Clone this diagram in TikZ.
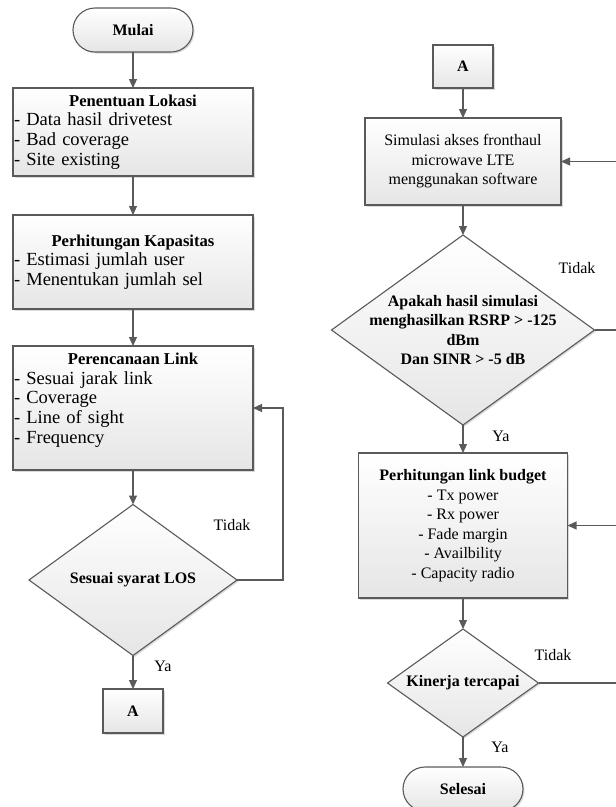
\documentclass[tikz,border=0pt]{standalone}
\usepackage{fontspec}
\setmainfont{Liberation Serif}
\usetikzlibrary{arrows.meta,shapes.geometric,shadows}
\definecolor{ln}{HTML}{5A5A5A}
\newcommand\myfs{\fontsize{16}{19.5}\selectfont}
\newcommand\lfs{\fontsize{18.5}{19.7}\selectfont}
\newcommand\ltitle[1]{\makebox[238pt]{\fontsize{16.6}{19.7}\selectfont\bfseries\spaceskip=0pt\xspaceskip=0pt\relax #1}}
\begin{document}
\begin{tikzpicture}[x=1pt,y=-1pt,
  base/.style={draw=ln, line width=1.1pt, top color=white, bottom color=gray!20,
    drop shadow={shadow xshift=1.5pt,shadow yshift=-1.5pt,opacity=0.3},
    inner sep=0pt, outer sep=0pt, font=\myfs},
  box/.style={base, rectangle, inner xsep=2pt},
  lbox/.style={base, rectangle, inner xsep=1pt, text width=238pt, minimum width=240pt, align=left, font=\lfs},
  term/.style={base, rectangle, rounded corners=22pt, minimum width=120pt, minimum height=44pt},
  dia/.style={base, diamond},
  dtext/.style={font=\myfs\bfseries, align=center, inner sep=0pt},
  lbl/.style={font=\myfs, inner sep=0pt},
  arr/.style={draw=ln, line width=1.1pt, -{Triangle[length=9pt,width=8pt]}}]
\useasboundingbox (0,0) rectangle (616,807);

% left column
\node[term] (mulai) at (133,30) {\textbf{Mulai}};
\node[lbox, minimum height=88pt] (lok) at (133,132)
  {\ltitle{Penentuan Lokasi}\\- Data hasil drivetest\\- Bad coverage\\- Site existing};
\node[lbox, minimum height=94pt] (kap) at (133,262)
  {\ltitle{Perhitungan Kapasitas}\\- Estimasi jumlah user\\- Menentukan jumlah sel};
\node[lbox, minimum height=124pt] (link) at (133,408)
  {\ltitle{Perencanaan Link}\\- Sesuai jarak link\\- Coverage\\- Line of sight\\- Frequency\\\mbox{}};
\node[dia, minimum width=208pt, minimum height=151pt] (los) at (133,580) {};
\node[dtext] (lost) at (los.center) {Sesuai syarat LOS};
\node[box, minimum width=60pt, minimum height=44pt] (al) at (133,711) {\textbf{A}};

\node[lbl] (t1) at (232,525) {Tidak};
\node[lbl] (y1) at (163,666) {Ya};

\draw[arr] (mulai.south) -- (lok.north);
\draw[arr] (lok.south) -- (kap.north);
\draw[arr] (kap.south) -- (link.north);
\draw[arr] (link.south) -- (los.north);
\draw[arr] (los.south) -- (al.north);
\coordinate (loopx) at (283,0);
\draw[arr] (los.east) -- (los.east -| loopx) |- (link.east);

% right column
\node[box, minimum width=60pt, minimum height=43pt] (ar) at (463,66.5) {\textbf{A}};
\node[box, minimum width=196pt, minimum height=87pt, align=center] (sim) at (463,161.5)
  {Simulasi akses fronthaul\\microwave LTE\\menggunakan software};
\node[dia, minimum width=263pt, minimum height=190pt] (rsrp) at (463,330) {};
\node[dtext] (rsrpt) at (rsrp.center) {Apakah hasil simulasi\\menghasilkan RSRP > -125\\dBm\\Dan SINR > -5 dB};
\node[box, minimum width=209pt, minimum height=145pt, align=center] (lb) at (463,525.5)
  {\textbf{Perhitungan link budget}\\- Tx power\\- Rx power\\- Fade margin\\- Availbility\\- Capacity radio};
\node[dia, minimum width=151pt, minimum height=108pt] (kin) at (463,683) {};
\node[dtext] (kint) at (kin.center) {Kinerja tercapai};
\node[term] (sel) at (463,789) {\textbf{Selesai}};

\node[lbl] (t2) at (577,268) {Tidak};
\node[lbl] (y2) at (501,436) {Ya};
\node[lbl] (t3) at (553,655) {Tidak};
\node[lbl] (y3) at (500,747) {Ya};

\draw[arr] (ar.south) -- (sim.north);
\draw[arr] (sim.south) -- (rsrp.north);
\draw[arr] (rsrp.south) -- (lb.north);
\draw[arr] (lb.south) -- (kin.north);
\draw[arr] (kin.south) -- (sel.north);
\coordinate (edgex) at (624,0);
\draw[arr] (rsrp.east) -- (rsrp.east -| edgex) |- (sim.east);
\draw[arr] (kin.east) -- (kin.east -| edgex) |- (lb.east);
\end{tikzpicture}
\end{document}
